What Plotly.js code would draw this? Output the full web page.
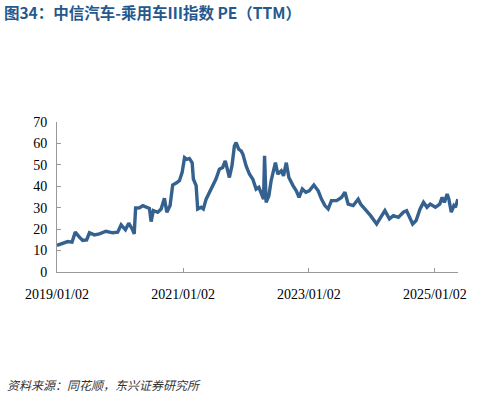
<!DOCTYPE html>
<html>
<head>
<meta charset="utf-8">
<script src="https://cdn.plot.ly/plotly-3.0.1.min.js"></script>
<style>html,body{margin:0;padding:0;background:#fff;}#chart{width:485px;height:400px;}</style>
</head>
<body>
<div id="chart"></div>
<script>
const dates = [
"2019-01-02","2019-02-05","2019-03-05","2019-03-30","2019-04-18","2019-05-12","2019-05-31","2019-06-23","2019-07-09","2019-08-07",
"2019-09-05","2019-10-13","2019-11-21","2019-12-20","2020-01-09","2020-02-03","2020-02-22","2020-03-13","2020-03-25","2020-04-02",
"2020-04-25","2020-05-14","2020-06-02","2020-06-21","2020-07-01","2020-07-14","2020-08-08","2020-08-28","2020-09-16","2020-09-30",
"2020-10-19","2020-11-03","2020-11-23","2020-12-12","2020-12-28","2021-01-11","2021-01-24","2021-02-08","2021-02-24","2021-03-03",
"2021-03-19","2021-03-28","2021-04-17","2021-04-30","2021-05-16","2021-06-04","2021-06-23","2021-07-12","2021-08-01","2021-08-20",
"2021-09-04","2021-09-18","2021-09-28","2021-10-13","2021-10-27","2021-11-06","2021-11-21","2021-12-05","2021-12-15","2022-01-03",
"2022-01-22","2022-02-11","2022-03-02","2022-03-18","2022-04-01","2022-04-14","2022-04-20","2022-04-24","2022-04-29","2022-05-15",
"2022-05-28","2022-06-22","2022-07-06","2022-07-26","2022-08-08","2022-08-24","2022-09-08","2022-10-02","2022-10-21","2022-11-06",
"2022-11-25","2022-12-15","2023-01-04","2023-01-31","2023-02-25","2023-03-16","2023-04-05","2023-04-24","2023-05-13","2023-06-12",
"2023-07-10","2023-07-30","2023-08-18","2023-09-16","2023-10-15","2023-10-29","2023-11-23","2023-12-26","2024-01-30","2024-02-18",
"2024-03-18","2024-04-13","2024-05-06","2024-06-04","2024-07-03","2024-07-22","2024-08-07","2024-08-26","2024-09-15","2024-10-08",
"2024-10-28","2024-11-17","2024-12-06","2025-01-05","2025-01-30","2025-02-13","2025-02-26","2025-03-14","2025-03-24","2025-04-07",
"2025-04-22","2025-05-01","2025-05-15"
];
const peTTM = [
12.4,13.2,14.2,13.9,18.6,16.3,14.7,15.0,18.3,17.3,
17.8,19.0,18.3,18.6,22.0,19.7,22.8,20.1,17.8,29.9,
30.0,31.0,30.5,29.7,23.5,28.7,27.9,29.4,34.4,27.9,
31.0,40.6,41.5,42.6,46.5,53.4,52.6,53.0,51.0,43.4,
40.3,29.4,30.2,29.4,34.0,37.2,41.0,43.4,48.0,48.8,
51.9,47.2,44.1,49.6,58.8,60.4,57.3,56.5,55.0,49.5,
45.7,43.3,38.7,39.5,36.4,34.0,54.2,33.0,32.5,35.6,
42.6,51.0,45.7,47.2,44.9,51.0,44.1,40.3,37.9,34.8,
38.7,37.2,37.9,40.6,37.9,34.0,31.0,29.4,33.3,33.3,
34.8,37.2,31.7,31.0,34.0,31.7,29.4,26.3,22.4,24.8,
28.6,24.8,26.3,25.5,27.9,28.6,25.5,22.4,24.0,29.4,
32.5,30.2,31.7,30.2,31.7,34.8,32.5,36.4,34.0,27.9,
31.0,30.2,34.0
];
const xTickVals = ["2019-01-02","2021-01-02","2023-01-02","2025-01-02"];
const xTickText = ["2019/01/02","2021/01/02","2023/01/02","2025/01/02"];
const yTickVals = [0,10,20,30,40,50,60,70];

const trace = {
  x: dates, y: peTTM, type: 'scatter', mode: 'lines',
  line: {color: '#35618f', width: 3.4}, hoverinfo: 'skip'
};
const axisFont = {family: '"Liberation Serif", "Times New Roman", serif', size: 14, color: '#000'};
const layout = {
  width: 485, height: 400,
  margin: {l: 57, r: 27, t: 122, b: 128},
  paper_bgcolor: '#fff', plot_bgcolor: '#fff',
  showlegend: false,
  title: {
    text: '图34：中信汽车-乘用车Ⅲ指数 PE（TTM）',
    font: {family: '"Noto Sans CJK SC", sans-serif', size: 15.5, color: '#25588c', weight: 'bold'},
    x: 0.008, xref: 'container', xanchor: 'left',
    y: 0.965, yref: 'container', yanchor: 'middle'
  },
  xaxis: {
    type: 'date', range: ['2019-01-02', '2025-05-16'],
    tickvals: xTickVals, ticktext: xTickText,
    ticks: 'inside', ticklen: 4, tickcolor: '#999', tickwidth: 1,
    ticklabelstandoff: 9,
    showline: true, linecolor: '#999', linewidth: 1,
    showgrid: false, zeroline: false, tickfont: axisFont
  },
  yaxis: {
    range: [0, 70], tickvals: yTickVals,
    ticks: 'inside', ticklen: 4, tickcolor: '#999', tickwidth: 1,
    ticklabelstandoff: 6,
    showline: true, linecolor: '#999', linewidth: 1,
    showgrid: false, zeroline: false, tickfont: axisFont
  },
  annotations: [{
    text: '资料来源：同花顺，东兴证券研究所',
    xref: 'paper', yref: 'paper', x: -0.13, y: -0.753,
    xanchor: 'left', yanchor: 'middle', showarrow: false,
    font: {family: '"Noto Sans CJK SC", sans-serif', size: 12, color: '#333', style: 'italic'}
  }]
};
Plotly.newPlot('chart', [trace], layout, {displayModeBar: false, staticPlot: true});
</script>
</body>
</html>
